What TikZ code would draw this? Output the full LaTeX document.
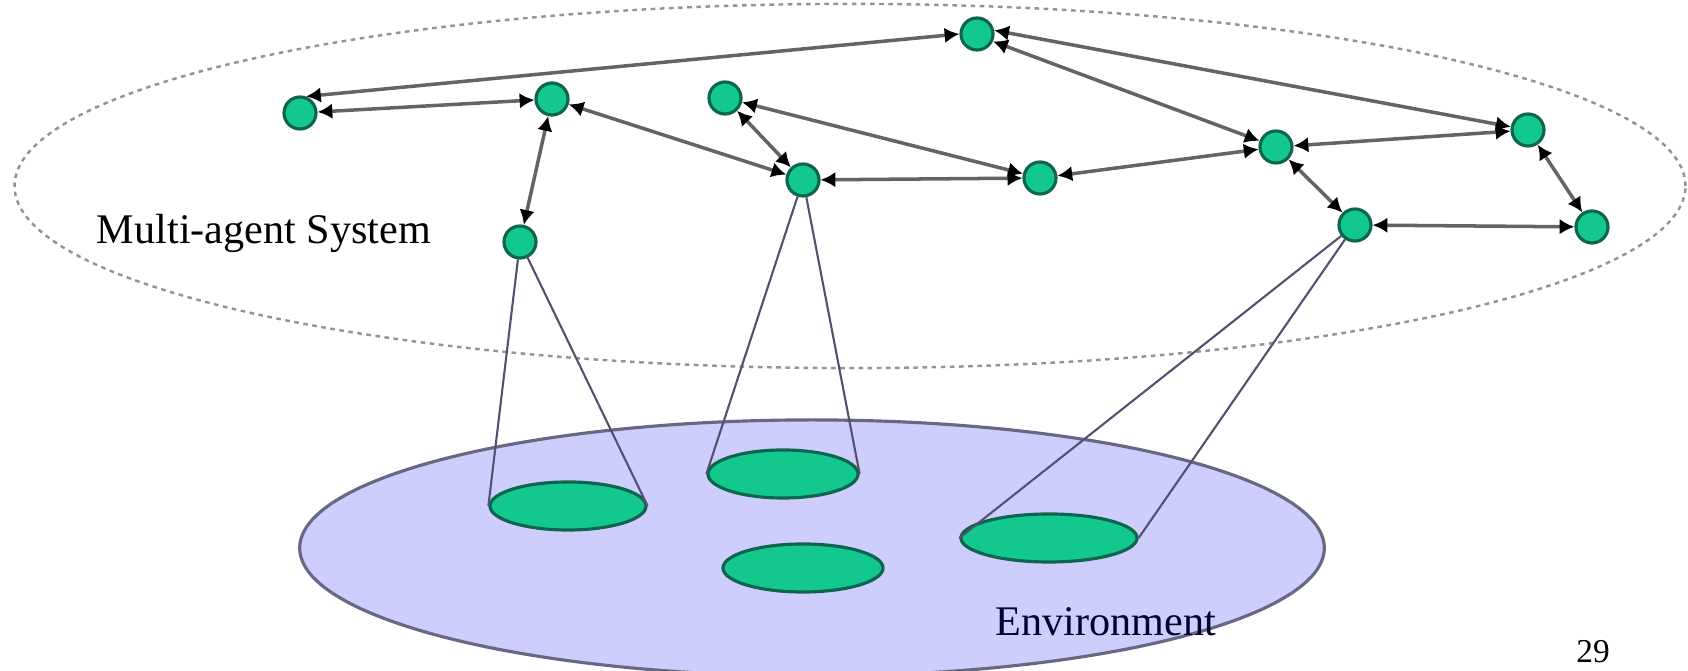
\documentclass[tikz,border=0pt]{standalone}
\usepackage{fontspec}
\setmainfont{Liberation Serif}
\usetikzlibrary{arrows.meta,shapes.geometric}
\definecolor{agentgreen}{RGB}{18,200,142}
\definecolor{agentedge}{RGB}{14,100,78}
\definecolor{envfill}{RGB}{206,206,252}
\definecolor{envedge}{RGB}{104,104,132}
\definecolor{linkgray}{RGB}{100,100,100}
\definecolor{conegray}{RGB}{82,82,112}
\begin{document}
\begin{tikzpicture}[x=0.01cm,y=-0.01cm,
        agent/.style={circle,fill=agentgreen,draw=agentedge,line width=0.9pt,
            minimum size=0.32cm,inner sep=0pt},
        patch/.style={ellipse,fill=agentgreen,draw=agentedge,line width=0.9pt,
            minimum height=0.48cm,inner sep=0pt},
        link/.style={draw=linkgray,line width=1pt,
            {Latex[length=4.2pt,width=4.4pt,color=black]}-{Latex[length=4.2pt,width=4.4pt,color=black]}},
        cone/.style={draw=conegray,line width=0.6pt}]
\useasboundingbox (0,0) rectangle (1688,671);

\node[ellipse,draw=gray!85,dash pattern=on 1.3pt off 1.3pt,line width=0.7pt,
    minimum width=16.70cm,minimum height=3.64cm,inner sep=0pt] (mas) at (850,186) {};
\node[ellipse,fill=envfill,draw=envedge,line width=0.9pt,
    minimum width=10.24cm,minimum height=2.56cm,inner sep=0pt] (env) at (812,548) {};

\node[font=\fontsize{12}{14}\selectfont] (maslabel) at (264,233) {Multi-agent System};
\node[font=\fontsize{12}{14}\selectfont,text=black!80!blue] (envlabel) at (1106,622) {Environment};
\node[font=\fontsize{9.5}{10}\selectfont] (page) at (1593,652) {29};

\node[agent] (a1) at (300,113) {};
\node[agent] (a2) at (552,99) {};
\node[agent] (a3) at (520,242) {};
\node[agent] (a4) at (977,34) {};
\node[agent] (a5) at (725,98) {};
\node[agent] (a6) at (803,180) {};
\node[agent] (a7) at (1040,178) {};
\node[agent] (a8) at (1276,147) {};
\node[agent] (a9) at (1528,130) {};
\node[agent] (a10) at (1355,225) {};
\node[agent] (a11) at (1592,227) {};

\node[patch,minimum width=1.56cm] (p1) at (568,506) {};
\node[patch,minimum width=1.50cm] (p2) at (783,474) {};
\node[patch,minimum width=1.60cm] (p3) at (803,568) {};
\node[patch,minimum width=1.76cm] (p4) at (1049,538) {};

\draw[cone] (a3) -- (p1.west);
\draw[cone] (a3) -- (p1.east);
\draw[cone] (a6) -- (p2.west);
\draw[cone] (a6) -- (p2.east);
\draw[cone] (a10) -- (p4.west);
\draw[cone] (a10) -- (p4.east);

\draw[link] (a1.70) -- (a4.west);
\draw[link] (a1) -- (a2);
\draw[link] (a2) -- (a3);
\draw[link] (a2) -- (a6);
\draw[link] (a5) -- (a6);
\draw[link] (a5) -- (a7);
\draw[link] (a6) -- (a7);
\draw[link] (a7) -- (a8);
\draw[link] (a4.-25) -- (a8);
\draw[link] (a4.12) -- (a9);
\draw[link] (a8) -- (a9);
\draw[link] (a8) -- (a10);
\draw[link] (a9) -- (a11);
\draw[link] (a10) -- (a11);
\end{tikzpicture}
\end{document}
